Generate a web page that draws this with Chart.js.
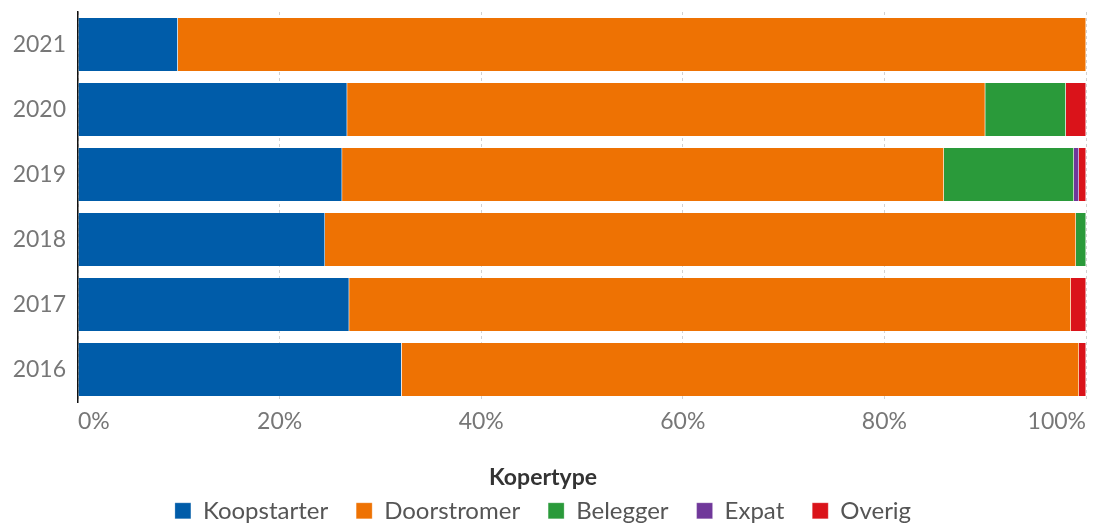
<!DOCTYPE html>
<html>
<head>
<meta charset="utf-8">
<script src="https://cdn.jsdelivr.net/npm/chart.js@4"></script>
<style>
  html, body { margin: 0; padding: 0; background: #fff; }
  #wrap { width: 1093px; height: 523px; }
</style>
</head>
<body>
<div id="wrap"><canvas id="chart"></canvas></div>
<script>
const jaren = ['2021', '2020', '2019', '2018', '2017', '2016'];
const koopstarter = [9.9, 26.7, 26.2, 24.5, 26.9, 32.1];
const doorstromer = [90.1, 63.3, 59.7, 74.5, 71.6, 67.2];
const belegger    = [0, 8.0, 12.9, 1.0, 0, 0];
const expat       = [0, 0, 0.5, 0, 0, 0];
const overig      = [0, 2.0, 0.7, 0, 1.5, 0.7];
const xTicks = [0, 20, 40, 60, 80, 100];

const kleuren = {
    koop: '#005CA9', door: '#EE7203', bel: '#2A9A3A', exp: '#70389A', ov: '#DA131A'
};

const fontFam = "Lato, 'Open Sans', sans-serif";

const ds = (label, data, kleur) => ({
    label, data, backgroundColor: kleur, borderColor: 'rgba(255,255,255,0.5)', borderWidth: 0.5,
    categoryPercentage: 1, barPercentage: 0.83
});

new Chart(document.getElementById('chart'), {
    type: 'bar',
    data: {
        labels: jaren,
        datasets: [
            ds('Koopstarter', koopstarter, kleuren.koop),
            ds('Doorstromer', doorstromer, kleuren.door),
            ds('Belegger', belegger, kleuren.bel),
            ds('Expat', expat, kleuren.exp),
            ds('Overig', overig, kleuren.ov)
        ]
    },
    options: {
        indexAxis: 'y',
        responsive: true,
        maintainAspectRatio: false,
        animation: false,
        layout: { padding: { top: 12, right: 7, left: 0, bottom: 0 } },
        plugins: {
            tooltip: { enabled: false },
            legend: {
                position: 'bottom',
                maxHeight: 57,
                title: { display: true, text: 'Kopertype', color: '#333', font: { family: fontFam, size: 23, weight: 'bold' }, padding: { top: 0, bottom: -22.8 } },
                labels: { boxWidth: 16, boxHeight: 16, padding: 28, color: '#555', font: { family: fontFam, size: 24 } }
            }
        },
        scales: {
            x: {
                stacked: true, min: 0, max: 100, z: 1,
                afterBuildTicks: (s) => { s.ticks = xTicks.map(v => ({ value: v })); },
                afterFit: (s) => { s.height = 64; s.paddingLeft = 0; s.paddingRight = 0; },
                grid: { color: 'rgba(0,0,0,0.18)', drawTicks: false },
                border: { display: false, dash: [3, 3] },
                ticks: { align: 'inner', padding: 6, color: '#777', font: { family: fontFam, size: 23 }, callback: (v) => v + '%' }
            },
            y: {
                stacked: true,
                afterFit: (s) => { s.width = 78; s.paddingTop = 0; s.paddingBottom = 0; },
                grid: { display: false, drawTicks: false },
                border: { display: true, color: '#111', width: 1.5 },
                ticks: { padding: 12, color: '#777', font: { family: fontFam, size: 23 } }
            }
        }
    }
});
</script>
</body>
</html>
